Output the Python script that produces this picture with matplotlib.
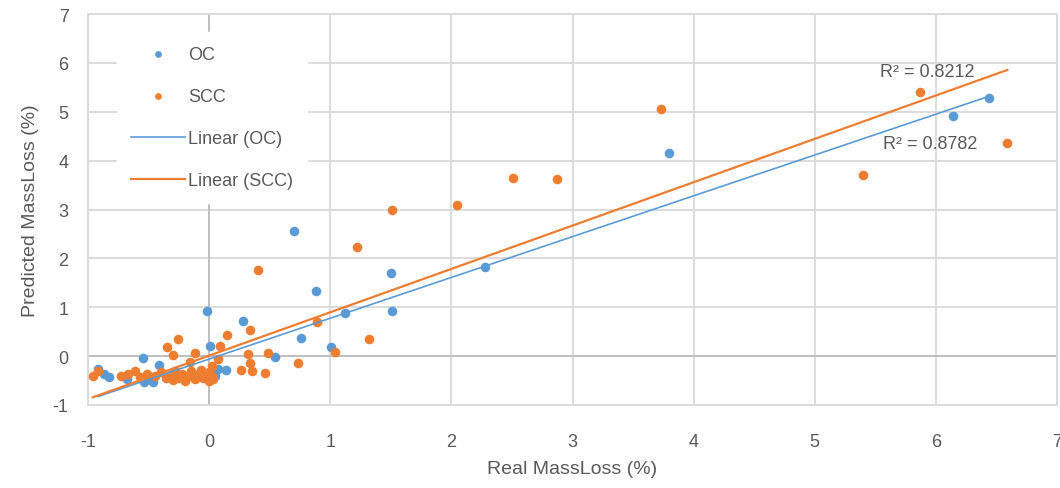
import matplotlib
matplotlib.use('Agg')
import matplotlib.pyplot as plt
import numpy as np

# Excel-like palette
COLORS = {
    'oc': '#5B9BD5',
    'scc': '#ED7D31',
    'grid': '#D9D9D9',
    'axis': '#BFBFBF',
    'text': '#595959',
}

# Real vs predicted mass loss (%)
oc_x = [6.44, 6.14, 3.80, 2.28, 1.50, 1.51, 0.70, 0.88, 1.12, -0.02,
        0.28, 0.76, 1.01, 0.01, 0.54, 0.14, 0.07, 0.05, -0.55, -0.41,
        -0.92, -0.87, -0.83, -0.68, -0.54, -0.49, -0.46, 0.02, -0.20, -0.05]
oc_y = [5.28, 4.91, 4.15, 1.82, 1.70, 0.92, 2.56, 1.33, 0.88, 0.92,
        0.72, 0.37, 0.18, 0.20, -0.02, -0.29, -0.27, -0.41, -0.04, -0.18,
        -0.27, -0.37, -0.43, -0.47, -0.53, -0.47, -0.53, -0.30, -0.45, -0.35]

scc_x = [6.59, 5.87, 5.40, 3.73, 2.87, 2.51, 2.05, 1.51, 1.22, 0.40,
         0.89, 0.34, 0.15, 1.32, 1.04, -0.12, 0.09, 0.49, 0.32, 0.73,
         0.46, 0.26, 0.35, 0.34, 0.07, 0.02, 0.02, -0.26, -0.35, -0.30,
         -0.16, 0.00, 0.00, -0.92, -0.96, -0.73, -0.67, -0.61, -0.57, -0.51,
         -0.45, -0.40, -0.36, -0.32, -0.28, -0.25, -0.22, -0.18, -0.15, -0.12,
         -0.10, -0.07, -0.05, -0.03, -0.20, -0.30, 0.03]
scc_y = [4.36, 5.40, 3.70, 5.05, 3.62, 3.64, 3.09, 2.99, 2.23, 1.76,
         0.70, 0.53, 0.43, 0.35, 0.08, 0.07, 0.20, 0.07, 0.04, -0.14,
         -0.34, -0.28, -0.31, -0.15, -0.06, -0.20, -0.41, 0.35, 0.18, 0.03,
         -0.12, -0.33, -0.51, -0.31, -0.41, -0.41, -0.37, -0.31, -0.43, -0.37,
         -0.40, -0.33, -0.45, -0.38, -0.30, -0.45, -0.36, -0.42, -0.30, -0.47,
         -0.38, -0.28, -0.44, -0.36, -0.50, -0.48, -0.46]

# linear trendlines (slope, intercept) and their R² labels
oc_fit = (0.835, -0.06)
scc_fit = (0.887, 0.01)
oc_r2 = 'R² = 0.8782'
scc_r2 = 'R² = 0.8212'

ticks = list(range(-1, 8))

plt.rcParams['font.family'] = ['Liberation Sans', 'DejaVu Sans']
plt.rcParams['axes.unicode_minus'] = False

fig = plt.figure(figsize=(10.6, 4.89), dpi=100)
ax = fig.add_axes([88/1060, 1 - 406/489, (1057 - 88)/1060, (406 - 15)/489])

ax.set_xlim(-1, 7)
ax.set_ylim(-1, 7)
ax.set_xticks(ticks)
ax.set_yticks(ticks)
ax.grid(True, color=COLORS['grid'], linewidth=1.3, zorder=0)
ax.set_axisbelow(True)
for sp in ax.spines.values():
    sp.set_color(COLORS['grid'])
    sp.set_linewidth(1.3)
ax.tick_params(length=0, labelsize=13, labelcolor=COLORS['text'])
ax.tick_params(axis='x', pad=20)
ax.tick_params(axis='y', pad=14)

# axes crossing at zero
ax.axhline(0, color=COLORS['axis'], linewidth=1.4, zorder=1)
ax.axvline(0, color=COLORS['axis'], linewidth=1.4, zorder=1)

ax.scatter(oc_x, oc_y, s=48, color=COLORS['oc'], linewidths=0, zorder=3, label='OC')
ax.scatter(scc_x, scc_y, s=48, color=COLORS['scc'], linewidths=0, zorder=3, label='SCC')

xo = np.array([min(oc_x), max(oc_x)])
ax.plot(xo, oc_fit[0]*xo + oc_fit[1], color=COLORS['oc'], linewidth=1.2,
        zorder=4, label='Linear (OC)')
xs = np.array([min(scc_x), max(scc_x)])
ax.plot(xs, scc_fit[0]*xs + scc_fit[1], color=COLORS['scc'], linewidth=1.6,
        zorder=4, label='Linear (SCC)')

ax.text(5.93, 5.83, scc_r2, fontsize=13, color=COLORS['text'],
        ha='center', va='center', zorder=5)
ax.text(5.95, 4.36, oc_r2, fontsize=13, color=COLORS['text'],
        ha='center', va='center', zorder=5)

ax.set_xlabel('Real MassLoss (%)', fontsize=14, color=COLORS['text'], labelpad=7)
ax.set_ylabel('Predicted MassLoss (%)', fontsize=14, color=COLORS['text'], labelpad=10)

leg = ax.legend(loc='upper left', bbox_to_anchor=((117 - 88)/969, 1 - (33 - 15)/391),
                borderaxespad=0, fontsize=13, frameon=True, facecolor='white',
                edgecolor='white', framealpha=1, fancybox=False,
                handlelength=3.0, labelspacing=1.4, borderpad=0.75,
                handletextpad=0.2, scatterpoints=1, markerscale=0.7)
leg.set_zorder(6)
for t in leg.get_texts():
    t.set_color(COLORS['text'])

fig.savefig('out.png', dpi=100, facecolor='white')
